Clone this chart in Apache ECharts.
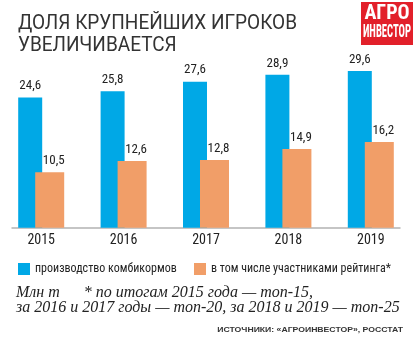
<!DOCTYPE html>
<html><head><meta charset="utf-8">
<script src="https://cdn.jsdelivr.net/npm/echarts@6/dist/echarts.min.js"></script>
<style>html,body{margin:0;padding:0;background:#fff}#c{width:417px;height:348px}</style>
</head><body><div id="c"></div>
<script>
const years = ['2015','2016','2017','2018','2019'];
const production = [24.6, 25.8, 27.6, 28.9, 29.6];
const ratingShare = [10.5, 12.6, 12.8, 14.9, 16.2];
const seriesNames = ['производство комбикормов', 'в том числе участниками рейтинга*'];
const titleLines = ['ДОЛЯ КРУПНЕЙШИХ ИГРОКОВ', 'УВЕЛИЧИВАЕТСЯ'];
const noteLines = ['Млн т      * по итогам 2015 года — топ-15,', 'за 2016 и 2017 годы — топ-20, за 2018 и 2019 — топ-25'];
const sourceText = 'ИСТОЧНИКИ: «АГРОИНВЕСТОР», РОССТАТ';

const fmt = v => String(v.toFixed(1)).replace('.', ',');
const narrow = '"Roboto Condensed", "DejaVu Sans Condensed", sans-serif';
const legendBase = {top: 263, padding: 0, icon: 'rect', itemWidth: 12, itemHeight: 12,
  textStyle: {fontFamily: narrow, fontSize: 12, color: '#222'}};

const chart = echarts.init(document.getElementById('c'), null, {renderer: 'canvas'});
chart.setOption({
  animation: false,
  backgroundColor: '#fff',
  grid: [
    {left: 0, right: 5, top: 69, bottom: 120.3},
    {left: 12, right: 17, top: 69, bottom: 120.3}
  ],
  xAxis: [
    {type: 'category', data: years, gridIndex: 0,
     axisLine: {show: false}, axisTick: {show: false},
     axisLabel: {color: '#222', fontFamily: narrow, fontSize: 14, margin: 6}},
    {type: 'category', data: years, gridIndex: 1,
     axisLine: {show: true, lineStyle: {color: '#b3b3b3', width: 1.5}},
     axisTick: {show: false}, axisLabel: {show: false}}
  ],
  yAxis: [
    {type: 'value', min: 0, max: 30, show: false, gridIndex: 0},
    {type: 'value', min: 0, max: 30, show: false, gridIndex: 1}
  ],
  legend: [
    Object.assign({left: 18, data: [seriesNames[0]]}, legendBase),
    Object.assign({left: 194, data: [seriesNames[1]]}, legendBase)
  ],
  series: [
    {name: seriesNames[0], type: 'bar', data: production, barWidth: 24, barGap: '-29.17%',
     itemStyle: {color: '#00a8e6'},
     label: {show: true, position: 'top', distance: 5, formatter: p => fmt(p.value),
             fontFamily: narrow, fontSize: 13, color: '#222'}},
    {name: seriesNames[1], type: 'bar', data: ratingShare, barWidth: 29,
     itemStyle: {color: '#f19e68'},
     label: {show: true, position: 'top', distance: 5, offset: [4, 0], formatter: p => fmt(p.value),
             fontFamily: narrow, fontSize: 13, color: '#222'}}
  ],
  graphic: [
    {type: 'text', x: 18, y: 13, scaleX: 0.905, style: {text: titleLines[0], font: '21px Roboto, "Liberation Sans", sans-serif', fill: '#333'}},
    {type: 'text', x: 18, y: 35, scaleX: 0.905, style: {text: titleLines[1], font: '21px Roboto, "Liberation Sans", sans-serif', fill: '#333'}},
    {type: 'group', x: 361, y: 2, children: [
      {type: 'rect', shape: {x: 0, y: 0, width: 52, height: 43}, style: {fill: '#e2202a'}},
      {type: 'text', x: 26, y: 2, style: {text: 'АГРО', font: 'bold 20px ' + narrow, fill: '#fff', align: 'center'}},
      {type: 'text', x: 26, y: 21, scaleX: 0.56, style: {text: 'ИНВЕСТОР', font: 'bold 19px ' + narrow, fill: '#fff', align: 'center'}}
    ]},
    {type: 'text', x: 16, y: 285, style: {text: noteLines[0], font: 'italic 16px "Liberation Serif", "Times New Roman", serif', fill: '#222'}},
    {type: 'text', x: 16, y: 300, style: {text: noteLines[1], font: 'italic 16px "Liberation Serif", "Times New Roman", serif', fill: '#222'}},
    {type: 'text', x: 403, y: 326, scaleX: 1.08, style: {text: sourceText, font: 'bold 8px "Liberation Sans", Arial, sans-serif', fill: '#333', align: 'right'}}
  ]
});
</script></body></html>
